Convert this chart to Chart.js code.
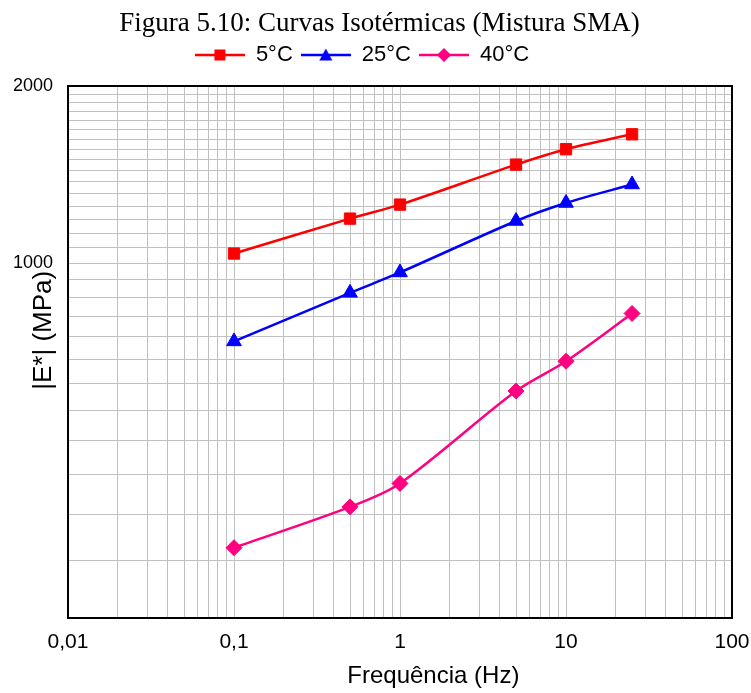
<!DOCTYPE html>
<html>
<head>
<meta charset="utf-8">
<script src="https://cdn.jsdelivr.net/npm/chart.js@4/dist/chart.umd.min.js"></script>
<style>
html, body { margin: 0; padding: 0; background: #ffffff; }
#wrap { width: 751px; height: 693px; }
</style>
</head>
<body>
<div id="wrap"><canvas id="c" width="751" height="693"></canvas></div>
<script>
// ---- data ----
const frequencies = [0.1, 0.5, 1, 5, 10, 25];
const modulus5C  = [1039, 1191, 1258, 1471, 1562, 1656];
const modulus25C = [737, 891, 965, 1180, 1266, 1361];
const modulus40C = [329, 386, 423, 607, 682, 822];
const seriesNames = ['5°C', '25°C', '40°C'];
const xTickValues = [0.01, 0.1, 1, 10, 100];
const xTickLabels = ['0,01', '0,1', '1', '10', '100'];
const yTickValues = [1000, 2000];
const yTickLabels = ['1000', '2000'];
const yMin = 250, yMax = 2000, yGridStep = 62.5;

const SANS = "'Liberation Sans', Arial, sans-serif";
const SERIF = "'Liberation Serif', 'Times New Roman', serif";
const colors = ['#FF0000', '#0000FF', '#FF0080'];
const shapes = ['rect', 'triangle', 'rectRot'];
const radii = [8, 8.5, 8];

function labelFor(v, values, labels) {
  for (let i = 0; i < values.length; i++) {
    if (Math.abs(v / values[i] - 1) < 1e-6) return labels[i];
  }
  return '';
}

function legendIcon(color, shape) {
  const c = document.createElement('canvas');
  c.width = 50; c.height = 16;
  const g = c.getContext('2d');
  g.strokeStyle = color; g.lineWidth = 2.5;
  g.beginPath(); g.moveTo(0, 8); g.lineTo(50, 8); g.stroke();
  g.fillStyle = color;
  g.beginPath();
  if (shape === 'rect') { g.rect(19.5, 2.5, 11, 11); }
  else if (shape === 'triangle') { g.moveTo(25, 1.5); g.lineTo(31.5, 13.5); g.lineTo(18.5, 13.5); g.closePath(); }
  else { g.moveTo(25, 1); g.lineTo(32, 8); g.lineTo(25, 15); g.lineTo(18, 8); g.closePath(); }
  g.fill();
  return c;
}
const icons = colors.map((c, i) => legendIcon(c, shapes[i]));

function makeSet(i, values) {
  return {
    label: seriesNames[i],
    data: frequencies.map((f, k) => ({ x: f, y: values[k] })),
    borderColor: colors[i],
    backgroundColor: colors[i],
    pointBackgroundColor: colors[i],
    pointBorderColor: colors[i],
    borderWidth: 2.5,
    pointStyle: shapes[i],
    pointRadius: radii[i],
    pointBorderWidth: 1,
    tension: 0.3,
    fill: false
  };
}

const frameBorder = {
  id: 'frameBorder',
  beforeDatasetsDraw(chart) {
    const { ctx, chartArea: a } = chart;
    ctx.save();
    ctx.strokeStyle = '#000000';
    ctx.lineWidth = 2;
    ctx.strokeRect(a.left, a.top, a.right - a.left, a.bottom - a.top);
    ctx.restore();
  }
};
// centre the title and legend where the reference places them
const headerPlacement = {
  id: 'headerPlacement',
  afterLayout(chart) {
    const t = chart.titleBlock;
    if (t) t.left = 2 * 379.5 - t.right;
    const l = chart.legend;
    if (l) l.right = 724 - l.left;
  }
};

new Chart(document.getElementById('c'), {
  type: 'line',
  data: {
    datasets: [makeSet(0, modulus5C), makeSet(1, modulus25C), makeSet(2, modulus40C)]
  },
  plugins: [frameBorder, headerPlacement],
  options: {
    responsive: false,
    animation: false,
    layout: { padding: { left: 0, right: 0, top: 0, bottom: 0 } },
    plugins: {
      title: {
        display: true,
        text: 'Figura 5.10: Curvas Isotérmicas (Mistura SMA)',
        color: '#000000',
        font: { family: SERIF, size: 27, weight: 'normal' },
        padding: { top: 7.5, bottom: -3.9 }
      },
      legend: {
        display: true,
        position: 'top',
        labels: {
          color: '#000000',
          font: { family: SANS, size: 22 },
          usePointStyle: true,
          pointStyleWidth: 50,
          padding: 8,
          generateLabels(chart) {
            const items = Chart.defaults.plugins.legend.labels.generateLabels(chart);
            items.forEach((it, i) => { it.pointStyle = icons[i]; });
            return items;
          }
        }
      },
      tooltip: { enabled: false }
    },
    scales: {
      x: {
        type: 'logarithmic',
        position: 'bottom',
        min: 0.01, max: 100,
        afterBuildTicks(s) {
          const t = [];
          for (let d = -2; d < 2; d++) for (let m = 1; m < 10; m++) t.push({ value: Number(m + 'e' + d) });
          t.push({ value: 100 });
          s.ticks = t;
        },
        afterFit(s) { s.height = 75; s.paddingLeft = 0; s.paddingRight = 19; },
        grid: { color: '#c0c0c0', lineWidth: 1, drawTicks: false },
        border: { display: false },
        ticks: {
          autoSkip: false, maxRotation: 0, minRotation: 0, padding: 12, color: '#000000',
          font: { family: SANS, size: 21 },
          callback: (v) => labelFor(v, xTickValues, xTickLabels)
        },
        title: {
          display: true,
          text: '          Frequência (Hz)',
          color: '#000000',
          font: { family: SANS, size: 24 },
          padding: { top: 0, bottom: 2 }
        }
      },
      spacer: {
        type: 'linear',
        position: 'top',
        display: true,
        grid: { display: false, drawTicks: false },
        border: { display: false },
        ticks: { display: false },
        afterFit(s) { s.height = 10; }
      },
      y: {
        type: 'logarithmic',
        position: 'left',
        min: yMin, max: yMax,
        afterBuildTicks(s) {
          const t = [];
          for (let v = yMin; v <= yMax + 1e-9; v += yGridStep) t.push({ value: v });
          s.ticks = t;
        },
        afterFit(s) { s.width = 68; },
        grid: { color: '#c0c0c0', lineWidth: 1, drawTicks: false },
        border: { display: false },
        ticks: {
          autoSkip: false, padding: 15, color: '#000000',
          font: { family: SANS, size: 18 },
          callback: (v) => labelFor(v, yTickValues, yTickLabels)
        },
        title: {
          display: true,
          text: '      |E*| (MPa)',
          color: '#000000',
          font: { family: SANS, size: 26 },
          padding: { top: 28, bottom: 0 }
        }
      }
    }
  }
});
</script>
</body>
</html>
